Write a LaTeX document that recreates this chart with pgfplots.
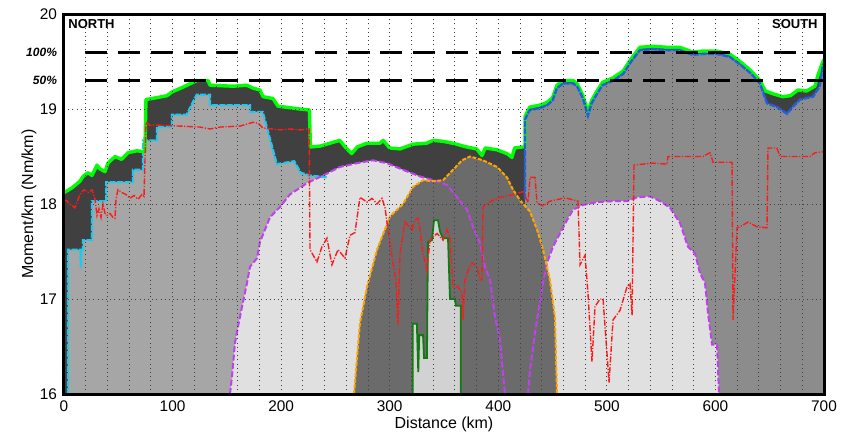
\documentclass[border=0pt]{standalone}
\usepackage{fontspec}
\setmainfont{Liberation Sans}
\usepackage{pgfplots}
\pgfplotsset{compat=1.18}
\usepackage{pgfplotstable}

\definecolor{envfill}{HTML}{404040}
\definecolor{envline}{HTML}{00FF00}
\definecolor{cyfill}{HTML}{A6A6A6}
\definecolor{cyline}{HTML}{20C8F0}
\definecolor{blfill}{HTML}{8C8C8C}
\definecolor{blline}{HTML}{2060E0}
\definecolor{pufill}{HTML}{E0E0E0}
\definecolor{puline}{HTML}{C040F0}
\definecolor{orfill}{HTML}{6B6B6B}
\definecolor{orline}{HTML}{FFA500}
\definecolor{grfill}{HTML}{D2D2D2}
\definecolor{grline}{HTML}{127A12}
\definecolor{rdline}{HTML}{FF1A1A}

% top envelope (green)
\pgfplotstableread{
x y
0 18.12
3 18.14
7.4 18.17
14.7 18.24
17.5 18.29
22 18.33
25.8 18.30
30.4 18.41
33 18.37
37.8 18.34
40.5 18.43
47 18.50
53 18.47
59 18.54
67 18.56
74.5 18.55
75.5 19.10
85.6 19.12
94.9 19.14
99.5 19.18
109.6 19.23
122.5 19.30
132.6 19.30
134.5 19.25
155.7 19.24
168.5 19.25
174 19.22
180.5 19.20
183.3 19.13
192.5 19.11
197 19.03
217 19.00
226 18.99
227 18.60
236 18.61
245 18.64
254 18.67
259 18.60
265 18.53
270 18.60
279 18.64
291 18.64
294 18.67
300 18.59
309.5 18.58
321.5 18.63
334 18.64
340 18.67
349 18.66
358 18.64
371 18.60
380 18.58
385 18.51
388 18.59
399 18.57
408 18.53
412.6 18.49
415 18.59
422 18.60
424.6 18.60
424.6 18.92
429 19.02
438 19.04
445 19.07
450 19.12
454 19.25
460 19.30
469 19.30
473 19.26
478 19.14
482.6 18.97
486 19.09
491 19.19
496 19.28
506 19.33
515 19.40
523 19.54
530.5 19.65
542.5 19.66
555 19.65
567 19.65
579 19.60
588.6 19.61
601 19.61
613 19.58
622.6 19.50
632 19.41
641 19.30
646 19.19
653 19.16
662 19.13
669 19.14
676 19.20
684 19.19
691.7 19.24
694.5 19.36
699 19.50
700 19.52
}\envelope

% north area (cyan)
\pgfplotstableread{
x y
3.7 16
3.7 17.52
15 17.52
15.5 17.33
16 17.52
17.5 17.52
17.5 17.62
25.8 17.62
25.8 18.03
39 18.03
39 18.23
63.5 18.23
63.5 18.36
72.8 18.36
72.8 18.67
85.6 18.67
85.6 18.81
99.5 18.81
99.5 18.94
113 18.94
122.2 19.15
134.5 19.15
134.5 19.04
171.4 19.04
171.4 18.97
183 18.97
196 18.42
212 18.45
218 18.33
226 18.30
243 18.28
}\north

% south area (blue)
\pgfplotstableread{
x y
424.6 18.05
424.6 18.89
429 18.99
438 19.01
445 19.04
450 19.09
454 19.22
460 19.27
469 19.27
473 19.23
478 19.11
482.6 18.93
486 19.06
491 19.16
496 19.25
506 19.30
515 19.37
523 19.51
530.5 19.62
542.5 19.63
555 19.62
567 19.62
579 19.57
588.6 19.58
601 19.58
613 19.55
622.6 19.47
632 19.38
641 19.27
647.5 19.06
657 19.02
666 18.95
671 19.02
678 19.10
690 19.13
696 19.24
699 19.46
700 19.48
}\south

% purple areas
\pgfplotstableread{
x y
152.9 16
154.7 16.18
157.5 16.54
160.3 16.71
164 16.92
168.6 17.17
171.3 17.34
177.8 17.43
180.5 17.60
189.7 17.86
199 17.97
208 18.10
223.8 18.22
238.6 18.30
254.2 18.39
269.9 18.43
284.6 18.46
297.5 18.43
312.2 18.36
327.9 18.29
343.6 18.24
352.8 18.20
362 18.07
371.2 17.94
376.7 17.76
383.2 17.59
387.8 17.34
392.4 17.20
397 16.81
401.6 16.57
404.3 16.22
406.2 16
}\purpleA

\pgfplotstableread{
x y
427.4 16
429.2 16.25
433.8 16.64
436.6 16.85
441.2 17.17
444.9 17.38
450.4 17.55
456.8 17.69
463.3 17.83
468.8 17.94
478 17.99
490.9 18.02
505.7 18.03
518.6 18.03
527.8 18.07
539.7 18.08
549 18.03
558.2 17.96
567.4 17.80
574.7 17.55
581.2 17.48
585.8 17.27
590.4 17.17
593.2 16.85
596.9 16.52
601.5 16.52
603.3 16
}\purpleB

% orange area
\pgfplotstableread{
x y
267.1 16
272.6 16.75
279.1 17.13
288.3 17.52
300.3 17.87
312.2 18.00
321.5 18.18
330.7 18.25
339.9 18.24
349.1 18.25
358.3 18.36
366.6 18.46
374 18.50
385.9 18.46
398.8 18.39
408 18.28
413.6 18.15
420 18.04
429.2 17.92
435.7 17.73
441.2 17.52
447.6 17.20
452.2 16.81
454.1 16
}\orange

% small green area
\pgfplotstableread{
x y
321.3 16
321.3 16.74
325 16.74
326.3 16.23
327.2 16.62
330.7 16.62
331.6 16.38
334.3 16.38
335.2 17.60
338.9 17.62
340.8 17.83
344.5 17.83
346.3 17.71
349 17.64
353.7 17.64
355.5 17.00
360.1 17.00
361 16.93
365.5 16.93
365.5 16
}\core

% red dash-dot line
\pgfplotstableread{
x y
0 18.04
1.8 18.04
5.5 18.00
10.1 17.96
14.7 18.10
18.4 18.15
22.1 18.12
25.8 18.15
28.6 18.05
30.4 17.88
32.2 17.95
34.1 17.86
35.9 18.00
37.8 17.90
39.6 17.88
42.4 17.90
45.1 17.86
47 17.85
47.9 18.05
49.7 18.15
53.4 18.12
57.1 18.10
60.8 18.06
64.5 18.09
68.2 18.05
71.8 18.10
73.7 18.08
75.5 18.86
79.2 18.83
88.4 18.83
106.8 18.82
125.3 18.81
134.5 18.79
143.7 18.81
162.1 18.82
174.1 18.86
178.7 18.85
183.3 18.80
199 18.78
208.2 18.79
217.4 18.78
225.7 18.79
226.6 17.52
233 17.39
237.6 17.55
242.2 17.64
246.8 17.36
252.4 17.52
258.8 17.43
263.4 17.67
268 17.70
272.6 18.07
279.1 18.02
283.7 18.06
288.3 18.00
292.9 18.06
295.7 17.96
298.4 17.73
303 17.38
305.8 17.20
307.6 16.73
309.5 17.48
314.1 17.81
320.5 17.73
323.3 17.83
326 17.85
327.9 17.73
330.7 17.48
334.3 17.30
337.1 17.62
343.6 17.69
349.1 17.62
352.8 17.73
355.5 17.65
358.3 17.13
362.9 17.13
366.6 17.06
367.5 16.78
369.3 17.20
372.1 17.30
375.8 17.38
380.4 17.34
383.2 17.20
385 17.20
385.9 17.97
389.6 18.00
395.1 18.04
401.6 18.07
413.6 18.10
422.8 18.13
427.4 18.02
429.2 18.28
433.8 18.28
435.7 18.01
441.2 17.98
447.6 18.03
459.6 18.06
463.3 18.06
473.4 18.03
475.3 17.36
479.9 17.46
482.6 17.06
486.3 16.34
489.1 16.92
493.7 17.00
496.5 17.00
500.1 16.43
502 16.12
505.7 16.78
512.1 16.88
518.6 17.13
521.3 17.16
523.2 16.83
525 18.41
542.5 18.43
555.4 18.42
556.3 18.50
588.6 18.50
595 18.54
597.8 18.44
615.3 18.44
616.2 16.78
619.9 17.75
622.6 17.76
630 17.81
638.3 17.76
647.5 17.75
648.4 18.59
656.6 18.59
659.4 18.50
687.1 18.50
691.7 18.54
700 18.55
}\redline

\begin{document}
\begin{tikzpicture}
\begin{axis}[
    scale only axis,
    width=380pt, height=190pt,
    xmin=0, xmax=700, ymin=16, ymax=20,
    xtick={0,100,...,700},
    minor xtick={20,40,...,680},
    ytick={16,17,18,19,20},
    extra y ticks={19.3,19.6},
    extra y tick labels={50\%,100\%},
    extra y tick style={grid=none,
        yticklabel style={font=\bfseries\itshape\fontsize{6}{7}\selectfont}},
    grid=both,
    major grid style={black!75, line width=0.4pt, dash pattern=on 0.5pt off 1.6pt},
    minor grid style={black!75, line width=0.4pt, dash pattern=on 0.5pt off 1.6pt},
    major tick length=0pt, minor tick length=0pt,
    axis on top,
    axis line style={line width=1.5pt},
    /pgf/number format/assume math mode=true,
    tick label style={font=\fontsize{7.7}{9}\selectfont},
    xlabel={Distance (km)},
    ylabel={Moment/km (Nm/km)},
    label style={font=\fontsize{8}{9.5}\selectfont},
    xlabel style={at={(axis description cs:0.5,-0.079)}, anchor=center},
    ylabel style={at={(axis description cs:-0.046,0.5)}, anchor=center},
]
% fills
\addplot[fill=envfill, draw=none] table {\envelope} \closedcycle;
\addplot[fill=cyfill, draw=none] table {\north} \closedcycle;
\addplot[fill=blfill, draw=none] table {\south} \closedcycle;
\addplot[fill=pufill, draw=none] table {\purpleA} \closedcycle;
\addplot[fill=pufill, draw=none] table {\purpleB} \closedcycle;
\addplot[fill=orfill, draw=none] table {\orange} \closedcycle;
\addplot[fill=grfill, draw=none] table {\core} \closedcycle;
% outlines
\addplot[cyline, line width=1.1pt, dash pattern=on 3pt off 0.7pt] table {\north};
\addplot[envline, line width=1.7pt, line join=round] table {\envelope};
\addplot[blline, line width=1.2pt, dash pattern=on 3pt off 0.6pt] table {\south};
\addplot[puline, line width=1pt, dash pattern=on 3pt off 1.2pt] table {\purpleA};
\addplot[puline, line width=1pt, dash pattern=on 3pt off 1.2pt] table {\purpleB};
\addplot[orline, line width=1pt, dash pattern=on 2pt off 0.8pt] table {\orange};
\addplot[grline, line width=0.9pt] table {\core};
\addplot[rdline, line width=0.7pt, dash pattern=on 3pt off 0.8pt on 0.6pt off 0.8pt] table {\redline};
% reference levels
\addplot[black, line width=1.5pt, dash pattern=on 11pt off 5.4pt] coordinates {(19.5,19.6) (700,19.6)};
\addplot[black, line width=1.5pt, dash pattern=on 11pt off 5.4pt] coordinates {(19.5,19.3) (700,19.3)};
\node[anchor=north west, inner sep=0pt, font=\bfseries\fontsize{6.5}{7}\selectfont]
    at (rel axis cs:0,1) [xshift=2pt, yshift=-2.5pt] {NORTH};
\node[anchor=north east, inner sep=0pt, font=\bfseries\fontsize{6.5}{7}\selectfont]
    at (rel axis cs:1,1) [xshift=-3pt, yshift=-2.5pt] {SOUTH};
\coordinate (sw) at (rel axis cs:0,0);
\coordinate (ne) at (rel axis cs:1,1);
\end{axis}
\pgfresetboundingbox
\useasboundingbox ([shift={(-32pt,-19.5pt)}]sw) rectangle ([shift={(9.5pt,7pt)}]ne);
\end{tikzpicture}
\end{document}
